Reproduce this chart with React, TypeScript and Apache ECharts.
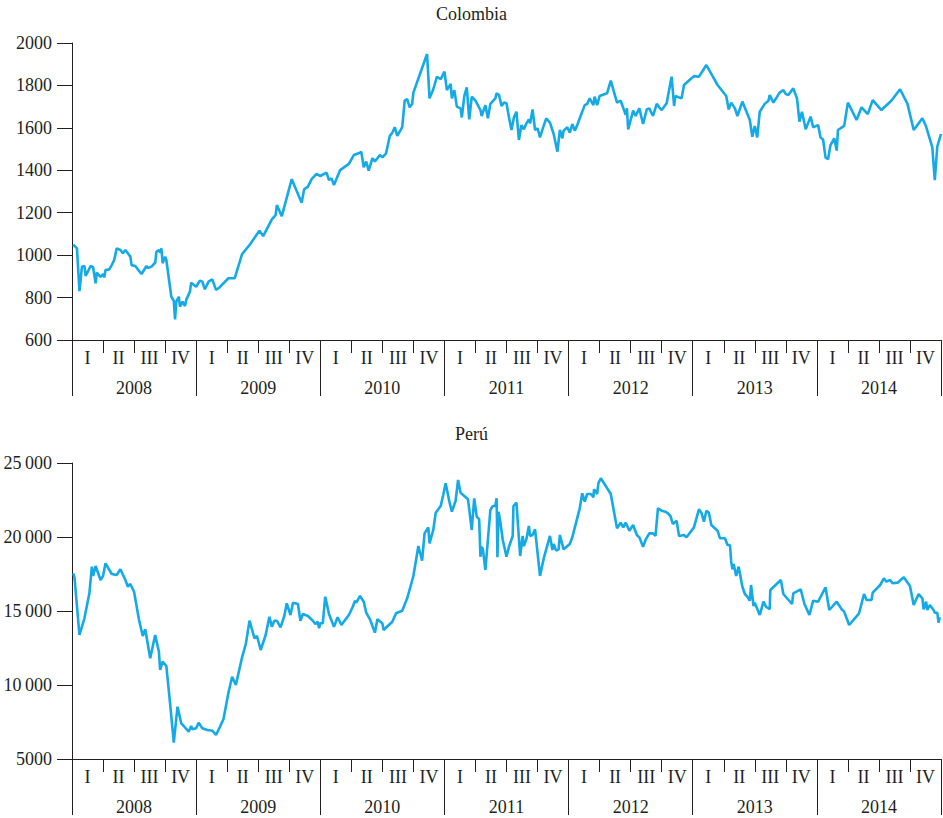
import React, { useEffect, useRef } from "react";
import * as echarts from "echarts";

const years = ["2008", "2009", "2010", "2011", "2012", "2013", "2014"];
const quarterNames = ["I", "II", "III", "IV"];
const colombiaTicks = { min: 600, max: 2000, interval: 200 };
const peruTicks = { min: 5000, max: 25000, interval: 5000 };

// [fractional year, index value]
const colombia2008 = [[2008.01,1050],[2008.04,1032],[2008.06,830],[2008.08,945],[2008.10,949],[2008.11,902],[2008.15,949],[2008.17,943],[2008.19,867],[2008.20,917],[2008.23,898],[2008.25,911],[2008.26,895],[2008.27,930],[2008.30,933],[2008.32,953],[2008.34,977],[2008.36,1032],[2008.39,1024],[2008.41,1009],[2008.43,1024],[2008.47,993],[2008.48,953],[2008.51,949],[2008.53,933],[2008.56,911],[2008.60,949],[2008.61,939],[2008.64,946],[2008.67,964],[2008.68,1016],[2008.70,1024],[2008.71,1012],[2008.72,1032],[2008.73,962],[2008.75,993],[2008.76,977],[2008.80,804],[2008.82,785],[2008.83,697],[2008.84,781],[2008.86,804],[2008.87,757],[2008.89,781],[2008.91,760],[2008.92,789],[2008.95,828],[2008.96,870]];
const colombia2009 = [[2009.00,851],[2009.03,880],[2009.05,875],[2009.07,839],[2009.10,875],[2009.13,886],[2009.16,836],[2009.19,849],[2009.26,891],[2009.31,891],[2009.37,1005],[2009.43,1048],[2009.51,1115],[2009.54,1090],[2009.61,1169],[2009.64,1189],[2009.65,1236],[2009.69,1184],[2009.77,1358],[2009.85,1247],[2009.87,1310],[2009.90,1323],[2009.93,1358],[2009.97,1383]];
const colombia2010 = [[2010.00,1373],[2010.05,1389],[2010.07,1354],[2010.09,1362],[2010.11,1331],[2010.16,1401],[2010.23,1430],[2010.27,1472],[2010.32,1483],[2010.33,1488],[2010.35,1414],[2010.37,1441],[2010.39,1398],[2010.42,1457],[2010.44,1441],[2010.48,1472],[2010.50,1461],[2010.53,1480],[2010.56,1562],[2010.58,1577],[2010.60,1603],[2010.62,1562],[2010.66,1604],[2010.68,1728],[2010.70,1735],[2010.72,1697],[2010.74,1713],[2010.75,1766],[2010.86,1948],[2010.88,1739],[2010.91,1782],[2010.94,1841],[2010.97,1829]];
const colombia2011 = [[2011.00,1865],[2011.02,1778],[2011.05,1807],[2011.06,1739],[2011.08,1778],[2011.10,1700],[2011.13,1692],[2011.14,1649],[2011.16,1750],[2011.18,1791],[2011.20,1640],[2011.22,1747],[2011.25,1728],[2011.29,1684],[2011.30,1656],[2011.33,1707],[2011.35,1645],[2011.37,1713],[2011.41,1739],[2011.42,1763],[2011.44,1755],[2011.46,1703],[2011.48,1719],[2011.50,1716],[2011.52,1650],[2011.54,1590],[2011.56,1650],[2011.58,1676],[2011.60,1543],[2011.62,1613],[2011.64,1593],[2011.66,1621],[2011.68,1640],[2011.69,1621],[2011.71,1687],[2011.73,1590],[2011.75,1598],[2011.77,1555],[2011.79,1593],[2011.82,1645],[2011.85,1625],[2011.88,1571],[2011.91,1488],[2011.93,1590],[2011.95,1551],[2011.96,1587],[2011.99,1603]];
const colombia2012 = [[2012.01,1577],[2012.03,1618],[2012.05,1587],[2012.07,1613],[2012.09,1645],[2012.13,1707],[2012.15,1713],[2012.17,1739],[2012.20,1707],[2012.21,1747],[2012.23,1707],[2012.25,1750],[2012.31,1763],[2012.34,1823],[2012.39,1719],[2012.42,1728],[2012.46,1661],[2012.47,1692],[2012.48,1593],[2012.52,1681],[2012.54,1656],[2012.57,1692],[2012.60,1618],[2012.63,1687],[2012.65,1692],[2012.68,1656],[2012.71,1713],[2012.73,1697],[2012.75,1684],[2012.79,1716],[2012.83,1841],[2012.85,1703],[2012.86,1750],[2012.91,1739],[2012.93,1802],[2012.97,1823]];
const colombia2013 = [[2013.01,1844],[2013.05,1841],[2013.11,1896],[2013.15,1854],[2013.20,1802],[2013.27,1750],[2013.29,1687],[2013.31,1719],[2013.34,1692],[2013.36,1656],[2013.40,1724],[2013.46,1637],[2013.48,1558],[2013.50,1609],[2013.52,1555],[2013.54,1676],[2013.58,1713],[2013.61,1728],[2013.62,1755],[2013.65,1719],[2013.70,1766],[2013.73,1778],[2013.75,1759],[2013.77,1755],[2013.81,1786],[2013.84,1739],[2013.86,1629],[2013.88,1676],[2013.91,1593],[2013.95,1653],[2013.97,1603]];
const colombia2014 = [[2014.01,1613],[2014.03,1555],[2014.05,1545],[2014.07,1461],[2014.09,1452],[2014.11,1519],[2014.14,1551],[2014.16,1493],[2014.17,1590],[2014.22,1609],[2014.25,1719],[2014.28,1684],[2014.32,1637],[2014.36,1697],[2014.41,1665],[2014.45,1731],[2014.52,1684],[2014.60,1728],[2014.67,1782],[2014.73,1713],[2014.78,1590],[2014.85,1645],[2014.88,1606],[2014.93,1508],[2014.95,1354],[2014.97,1511],[2015.00,1571]];

const peru2008 = [[2008.01,17548],[2008.02,17277],[2008.06,13379],[2008.10,14507],[2008.14,16196],[2008.16,17997],[2008.17,17366],[2008.19,18041],[2008.23,17095],[2008.25,17366],[2008.27,18223],[2008.32,17500],[2008.36,17433],[2008.39,17818],[2008.43,17095],[2008.45,16642],[2008.47,16825],[2008.50,16304],[2008.54,14392],[2008.57,13311],[2008.59,13762],[2008.63,11804],[2008.67,13379],[2008.70,12250],[2008.71,11014],[2008.73,11574],[2008.76,11284],[2008.79,8763],[2008.82,6104],[2008.85,8534],[2008.88,7412],[2008.90,7230],[2008.94,6845],[2008.96,7230],[2008.97,7007]];
const peru2009 = [[2009.00,7074],[2009.02,7453],[2009.05,7074],[2009.09,6960],[2009.13,6912],[2009.16,6622],[2009.19,7142],[2009.22,7683],[2009.26,9480],[2009.29,10561],[2009.32,10000],[2009.37,11872],[2009.40,12771],[2009.43,14345],[2009.47,13155],[2009.49,13311],[2009.52,12365],[2009.56,13379],[2009.59,14615],[2009.61,13942],[2009.63,14345],[2009.65,14345],[2009.68,13898],[2009.71,14662],[2009.73,15519],[2009.76,14730],[2009.78,15561],[2009.82,15473],[2009.84,14345],[2009.86,14797],[2009.90,14662],[2009.94,14345],[2009.96,14122],[2009.98,14277],[2009.99,13831]];
const peru2010 = [[2010.00,14169],[2010.02,14169],[2010.04,15969],[2010.07,14797],[2010.11,13942],[2010.14,14574],[2010.17,14054],[2010.23,14730],[2010.26,15250],[2010.28,15696],[2010.29,15561],[2010.32,16014],[2010.35,15629],[2010.37,14886],[2010.40,14440],[2010.44,13536],[2010.46,14440],[2010.50,14169],[2010.51,13716],[2010.58,14277],[2010.61,14845],[2010.66,15021],[2010.70,15855],[2010.75,17366],[2010.79,19392],[2010.82,18399],[2010.84,20247],[2010.87,20652],[2010.88,19575],[2010.91,20475],[2010.93,21643],[2010.97,22095],[2010.99,22838]];
const peru2011 = [[2011.01,23628],[2011.04,22385],[2011.06,21711],[2011.09,22452],[2011.11,23851],[2011.13,22994],[2011.19,22545],[2011.22,20475],[2011.24,22613],[2011.26,21372],[2011.28,21193],[2011.29,18667],[2011.30,19343],[2011.31,19167],[2011.33,17771],[2011.37,21825],[2011.39,22095],[2011.41,22095],[2011.42,22613],[2011.423,21265],[2011.427,18627],[2011.436,21711],[2011.45,21035],[2011.47,19798],[2011.50,18667],[2011.52,19343],[2011.55,20070],[2011.556,22095],[2011.58,22321],[2011.61,18716],[2011.63,20070],[2011.64,19392],[2011.66,19843],[2011.68,20745],[2011.69,20070],[2011.71,20137],[2011.73,20521],[2011.77,17366],[2011.80,18557],[2011.85,20070],[2011.87,19122],[2011.88,19527],[2011.90,19077],[2011.92,19167],[2011.93,20137],[2011.96,19167]];
const peru2012 = [[2012.01,19527],[2012.03,19978],[2012.09,21939],[2012.11,22952],[2012.13,22385],[2012.15,22906],[2012.18,22906],[2012.20,22681],[2012.205,23222],[2012.23,22906],[2012.24,23628],[2012.26,23967],[2012.34,22906],[2012.39,20587],[2012.42,20967],[2012.44,20652],[2012.46,20967],[2012.49,20426],[2012.52,20812],[2012.55,20137],[2012.57,19978],[2012.60,19343],[2012.62,19800],[2012.65,20247],[2012.68,20247],[2012.70,20070],[2012.72,21939],[2012.75,21778],[2012.78,21711],[2012.80,21598],[2012.82,21420],[2012.84,20880],[2012.87,21104],[2012.89,20070],[2012.93,20137],[2012.95,19978],[2012.97,20204]];
const peru2013 = [[2013.01,20652],[2013.05,21870],[2013.07,21643],[2013.09,21035],[2013.11,21778],[2013.13,21643],[2013.15,20812],[2013.20,20426],[2013.22,19911],[2013.26,19911],[2013.28,19460],[2013.30,19460],[2013.31,18331],[2013.32,17818],[2013.33,18176],[2013.35,17366],[2013.37,17997],[2013.40,16642],[2013.42,16149],[2013.44,15969],[2013.46,15696],[2013.47,16757],[2013.49,15338],[2013.50,15561],[2013.54,14730],[2013.57,15629],[2013.59,15291],[2013.62,15115],[2013.625,16419],[2013.71,17095],[2013.73,16149],[2013.80,15473],[2013.81,16196],[2013.87,16465],[2013.90,15473],[2013.94,14730],[2013.97,15696]];
const peru2014 = [[2014.01,15629],[2014.07,16600],[2014.10,15068],[2014.16,15629],[2014.20,15115],[2014.22,14955],[2014.26,14054],[2014.34,14845],[2014.38,16149],[2014.40,15743],[2014.44,15743],[2014.45,16236],[2014.51,16757],[2014.54,17209],[2014.56,16983],[2014.59,17095],[2014.61,16870],[2014.65,16915],[2014.70,17277],[2014.75,16690],[2014.78,15406],[2014.82,16149],[2014.85,15855],[2014.86,15115],[2014.88,15629],[2014.89,15068],[2014.91,15406],[2014.94,15068],[2014.95,14886],[2014.97,14886],[2014.98,14210],[2014.99,14574]];

const colombia = [...colombia2008, ...colombia2009, ...colombia2010, ...colombia2011, ...colombia2012, ...colombia2013, ...colombia2014];
const peru = [...peru2008, ...peru2009, ...peru2010, ...peru2011, ...peru2012, ...peru2013, ...peru2014];

const FONT = "'Liberation Serif', 'DejaVu Serif', serif";
const INK = "#231f20";
const LINE = "#15a9e6";

const quarterKeys = years.flatMap((y) => quarterNames.map((q) => y + "-" + q));

function fmtThousands(v: number) {
  const s = String(v);
  return v >= 10000 ? s.slice(0, s.length - 3) + "\u2009" + s.slice(s.length - 3) : s;
}

function xAxesFor(g: number) {
  return [
    { type: "value", gridIndex: g, min: 2008, max: 2015, show: false },
    {
      type: "category",
      gridIndex: g,
      position: "bottom",
      data: quarterKeys,
      boundaryGap: true,
      axisLine: { show: true, lineStyle: { color: INK, width: 1 } },
      axisTick: { show: true, interval: 0, length: 13, lineStyle: { color: INK, width: 1 } },
      axisLabel: {
        interval: 0,
        margin: 9,
        fontSize: 18,
        color: INK,
        fontFamily: FONT,
        formatter: (v: string) => v.split("-")[1],
      },
      splitLine: { show: false },
    },
    {
      type: "category",
      gridIndex: g,
      position: "bottom",
      data: years,
      boundaryGap: true,
      axisLine: { show: false },
      axisTick: { show: true, interval: 0, length: 56, lineStyle: { color: INK, width: 1 } },
      axisLabel: { interval: 0, margin: 39, fontSize: 18, color: INK, fontFamily: FONT },
      splitLine: { show: false },
    },
  ];
}

function yAxisFor(g: number, t: { min: number; max: number; interval: number }) {
  return {
    type: "value",
    gridIndex: g,
    min: t.min,
    max: t.max,
    interval: t.interval,
    axisLine: { show: true, lineStyle: { color: INK, width: 1 } },
    axisTick: { show: true, length: 15, lineStyle: { color: INK, width: 1 } },
    axisLabel: { margin: 20, fontSize: 18, color: INK, fontFamily: FONT, formatter: fmtThousands },
    splitLine: { show: false },
  };
}

export default function App() {
  const ref = useRef<HTMLDivElement>(null);
  useEffect(() => {
    document.body.style.margin = "0";
    const chart = echarts.init(ref.current!, null, { renderer: "svg" });
    chart.setOption({
      animation: false,
      backgroundColor: "#ffffff",
      textStyle: { fontFamily: FONT },
      title: [
        { text: "Colombia", left: "center", top: 0, textStyle: { fontSize: 18, fontWeight: "normal", color: INK, fontFamily: FONT } },
        { text: "Perú", left: "center", top: 420, textStyle: { fontSize: 18, fontWeight: "normal", color: INK, fontFamily: FONT } },
      ],
      grid: [
        { left: 72, top: 43, width: 869, height: 297 },
        { left: 72, top: 463, width: 869, height: 296 },
      ],
      xAxis: [...xAxesFor(0), ...xAxesFor(1)],
      yAxis: [yAxisFor(0, colombiaTicks), yAxisFor(1, peruTicks)],
      series: [
        {
          name: "Colombia",
          type: "line",
          xAxisIndex: 0,
          yAxisIndex: 0,
          data: colombia,
          showSymbol: false,
          symbol: "none",
          lineStyle: { color: LINE, width: 2.6 },
        },
        {
          name: "Perú",
          type: "line",
          xAxisIndex: 3,
          yAxisIndex: 1,
          data: peru,
          showSymbol: false,
          symbol: "none",
          lineStyle: { color: LINE, width: 2.6 },
        },
      ],
    });
    return () => chart.dispose();
  }, []);
  return <div ref={ref} style={{ width: 943, height: 818 }} />;
}
